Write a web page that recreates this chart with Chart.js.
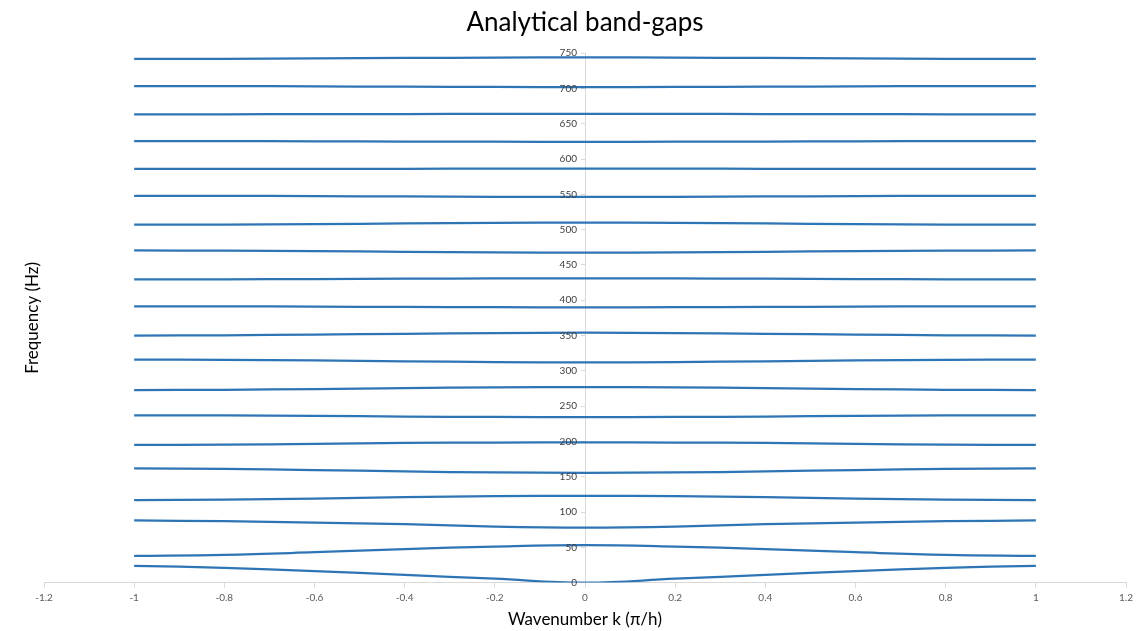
<!DOCTYPE html>
<html lang="en">
<head>
    <meta charset="UTF-8">
    <title>Analytical band-gaps</title>
    <script src="https://cdn.jsdelivr.net/npm/chart.js"></script>
    <style>
        body { margin: 0; background: #fff; }
        #wrap { width: 1143px; height: 631px; }
    </style>
</head>
<body>
<div id="wrap"><canvas id="bandChart"></canvas></div>
<script>
    // wavenumbers for the half zone, the other half is the mirror image
    const kHalf = [0, 0.2, 0.4, 0.6, 0.8, 1];

    // frequencies (Hz) of each band at kHalf
    const band1 = [0, 5.5, 11, 16.3, 21, 23.8];
    const band2 = [53, 51, 47.4, 43, 39.3, 38];
    const band3 = [78, 79.4, 82.8, 85, 87, 88];
    const band4 = [123, 122.5, 121, 119, 117.5, 117];
    const band5 = [155.6, 156, 157.5, 159.5, 161, 161.7];
    const band6 = [198.6, 198.4, 198, 196.5, 195.3, 195];
    const band7 = [234.5, 234.7, 235.3, 236.2, 236.8, 237];
    const band8 = [277, 276.7, 275.6, 274.2, 273.2, 272.8];
    const band9 = [312, 312.4, 313.5, 314.8, 315.7, 316];
    const band10 = [354, 353.6, 352.5, 351.3, 350.4, 350];
    const band11 = [390, 390.1, 390.5, 391, 391.4, 391.5];
    const band12 = [431, 430.9, 430.5, 430, 429.6, 429.5];
    const band13 = [467.5, 467.8, 468.6, 469.6, 470.3, 470.5];
    const band14 = [510, 509.7, 508.8, 507.8, 507.2, 507];
    const band15 = [546.5, 546.6, 547, 547.5, 547.9, 548];
    const band16 = [586.5, 586.5, 586.3, 586.2, 586, 586];
    const band17 = [624.5, 624.6, 624.9, 625.2, 625.4, 625.5];
    const band18 = [664, 664, 663.8, 663.7, 663.5, 663.5];
    const band19 = [702, 702.2, 702.6, 703, 703.4, 703.5];
    const band20 = [744, 743.8, 743.2, 742.6, 742.1, 742];

    const bands = [band1, band2, band3, band4, band5, band6, band7, band8, band9, band10,
        band11, band12, band13, band14, band15, band16, band17, band18, band19, band20];

    const xTicks = [-1.2, -1, -0.8, -0.6, -0.4, -0.2, 0, 0.2, 0.4, 0.6, 0.8, 1, 1.2];
    const yTicks = [0, 50, 100, 150, 200, 250, 300, 350, 400, 450, 500, 550, 600, 650, 700, 750];

    function mirror(vals) {
        const pts = [];
        for (let i = kHalf.length - 1; i > 0; i--) pts.push({x: -kHalf[i], y: vals[i]});
        for (let i = 0; i < kHalf.length; i++) pts.push({x: kHalf[i], y: vals[i]});
        return pts;
    }

    const lineBlue = '#2e75b6';
    const axisGrey = '#d9d9d9';
    const labelGrey = '#595959';
    const font = 'Lato, "Open Sans", sans-serif';

    // y-axis title sits at the left edge, the axis itself crosses at k = 0;
    // chart.js puts the labels of such an axis right on the line, so draw them here
    const yExtrasPlugin = {
        id: 'yExtras',
        afterDraw(chart) {
            const ctx = chart.ctx;
            const area = chart.chartArea;
            const xs = chart.scales.x;
            const ys = chart.scales.y;
            ctx.save();
            ctx.font = '10px ' + font;
            ctx.fillStyle = '#404040';
            ctx.textAlign = 'right';
            ctx.textBaseline = 'middle';
            const x0 = xs.getPixelForValue(0) - 8;
            ys.ticks.forEach(t => ctx.fillText(String(t.value), x0, ys.getPixelForValue(t.value)));

            ctx.translate(33, (area.top + area.bottom) / 2);
            ctx.rotate(-Math.PI / 2);
            ctx.font = '17px ' + font;
            ctx.fillStyle = '#000';
            ctx.textAlign = 'center';
            ctx.fillText('Frequency (Hz)', 0, 0);
            ctx.restore();
        }
    };

    new Chart(document.getElementById('bandChart'), {
        type: 'scatter',
        data: {
            datasets: bands.map((b, i) => ({
                label: 'Band ' + (i + 1),
                data: mirror(b),
                showLine: true,
                borderColor: lineBlue,
                backgroundColor: lineBlue,
                borderWidth: 2.25,
                pointRadius: 0,
                tension: 0.4
            }))
        },
        options: {
            responsive: true,
            maintainAspectRatio: false,
            animation: false,
            layout: { padding: { left: 44, right: 17, top: 0, bottom: 1 } },
            plugins: {
                legend: { display: false },
                tooltip: { enabled: false },
                title: {
                    display: true,
                    text: 'Analytical band-gaps',
                    color: '#000',
                    font: { family: font, size: 26, weight: 'normal' },
                    padding: { top: 7, bottom: 15 }
                }
            },
            scales: {
                x: {
                    type: 'linear',
                    min: -1.2,
                    max: 1.2,
                    afterBuildTicks: axis => { axis.ticks = xTicks.map(v => ({value: v})); },
                    border: { color: axisGrey, width: 1 },
                    grid: { drawOnChartArea: false, color: axisGrey, tickLength: 5 },
                    ticks: {
                        color: labelGrey,
                        font: { family: font, size: 10 },
                        padding: 4,
                        maxRotation: 0,
                        callback: v => String(Math.round(v * 10) / 10)
                    },
                    title: {
                        display: true,
                        text: 'Wavenumber k (\u03c0/h)',
                        color: '#000',
                        font: { family: font, size: 17 },
                        padding: { top: 2, bottom: 0 }
                    }
                },
                y: {
                    type: 'linear',
                    position: { x: 0 },
                    min: 0,
                    max: 750,
                    afterBuildTicks: axis => { axis.ticks = yTicks.map(v => ({value: v})); },
                    border: { color: axisGrey, width: 1 },
                    grid: { drawOnChartArea: false, color: axisGrey, tickLength: 4 },
                    ticks: { display: false }
                }
            }
        },
        plugins: [yExtrasPlugin]
    });
</script>
</body>
</html>
